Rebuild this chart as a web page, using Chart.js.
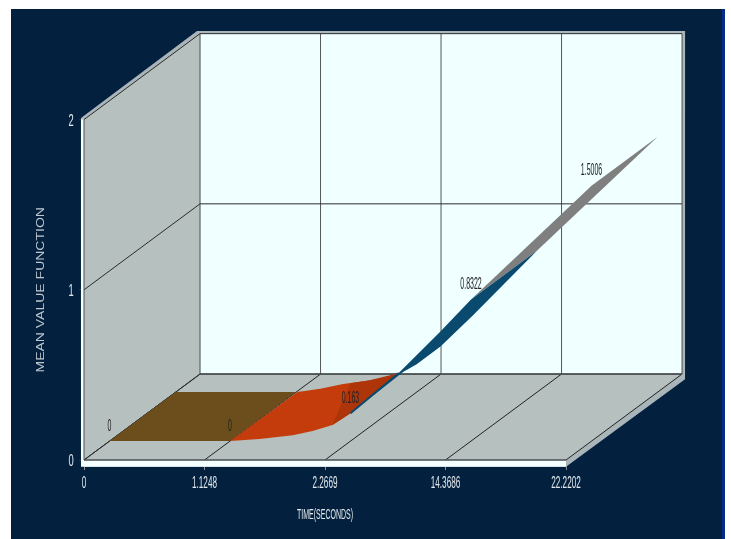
<!DOCTYPE html>
<html>
<head>
<meta charset="utf-8">
<style>
  html, body { margin: 0; padding: 0; background: #fff; overflow: hidden; }
  #frame { position: absolute; left: 11px; top: 9px; width: 711px; height: 530px; background: #03203f; }
  #strip { position: absolute; left: 722px; top: 9px; width: 3px; height: 530px; background: #062a8c; }
  canvas { position: absolute; left: 0; top: 0; }
</style>
<script src="https://cdn.jsdelivr.net/npm/chart.js@4"></script>
</head>
<body>
<div id="frame"></div>
<div id="strip"></div>
<canvas id="mycanvas" width="731" height="539"></canvas>
<script>
var xTickLabels = ['0', '1.1248', '2.2669', '14.3686', '22.2202'];
var yTickValues = [0, 1, 2];
var meanValues = [0, 0, 0.163, 0.8322, 1.5006];
var valueLabels = ['0', '0', '0.163', '0.8322', '1.5006'];

// ribbon edges, [tick position, value]
var frontEdgeRed = [[1, 0], [1.245, 0.012], [1.52, 0.035], [1.685, 0.059], [1.85, 0.094], [2, 0.163], [2.4, 0.4]];
var backEdgeRed = [[1.01, 0], [1.2, 0.02], [1.39, 0.047], [1.68, 0.076], [1.84, 0.11]];
var shadeEdgeRed = [[1.85, 0.094], [2, 0.163], [2.4, 0.4]];
var shadeBackRed = [[1.84, 0.11], [1.6, 0.068], [1.45, 0.052]];
var frontEdgeBlue = [[2, 0.163], [2.4, 0.4], [2.74, 0.64], [3, 0.8322]];
var backEdgeBlue = [[2.47, 0.453], [2.2, 0.27], [2, 0.163], [1.89, 0.12]];

var depthX = 0.963, depthY = 0.505;
var ribbonFront = 0.22, ribbonBack = 0.79;

function project(pos, val, depth) {
  return { x: pos + depth * depthX, y: val + depth * depthY };
}

var datasets = [];
function addShape(points, fillColor) {
  datasets.push({ data: points, polygonFill: fillColor, showLine: false, pointRadius: 0, clip: false });
}
function addLine(points, color, width) {
  datasets.push({ data: points, borderColor: color, borderWidth: width || 1, showLine: true, pointRadius: 0, fill: false, clip: false });
}

// outer edge and white rim of the box
addShape([project(-0.025, 0, 0), project(-0.025, 2.01, 0), project(-0.025, 2.015, 1), project(4.025, 2.015, 1), project(4.025, -0.03, 1), project(4, -0.04, 0), project(0, -0.04, 0)], '#aab5ba');
addShape([project(-0.025, 2, 0), project(0, 2, 0), project(0, 0, 0), project(4, 0, 0), project(4, -0.04, 0), project(-0.025, -0.04, 0)], '#f4ffff');

// walls and floor
addShape([project(0, 0, 0), project(0, 2, 0), project(0, 2, 1), project(0, 0, 1)], '#b6c0be');
addShape([project(0, 0, 1), project(0, 2, 1), project(4, 2, 1), project(4, 0, 1)], '#f0ffff');
addShape([project(0, 0, 0), project(4, 0, 0), project(4, 0, 1), project(0, 0, 1)], '#b6c0be');

// grid
for (var k = 0; k <= 4; k++) {
  addLine([project(k, 0, 1), project(k, 2, 1)], k == 0 || k == 4 ? '#4a4f50' : '#555', 1);
  addLine([project(k, 0, 0), project(k, 0, 1)], '#222', 1);
}
yTickValues.forEach(function (v) {
  addLine([project(0, v, 0), project(0, v, 1), project(4, v, 1)], '#2a2c2d', 1);
});
addLine([project(0, 0, 0), project(0, 2, 0)], '#4a4f50', 1);
addLine([project(0, 0, 0), project(4, 0, 0)], '#4a4f50', 1.5);
addLine([project(0, 0, 1), project(4, 0, 1)], '#4a4f50', 1.5);

// ribbon, back to front
addShape([project(3, meanValues[3], ribbonFront), project(4, meanValues[4], ribbonFront), project(4, meanValues[4], ribbonBack), project(3, meanValues[3], ribbonBack)], '#7f7f80');
addShape([project(0, meanValues[0], ribbonFront), project(1, meanValues[1], ribbonFront), project(1, meanValues[1], ribbonBack), project(0, meanValues[0], ribbonBack)], '#6b4e1c');

var redFront = frontEdgeRed.map(function (p) { return project(p[0], p[1], ribbonFront); });
var redBack = backEdgeRed.slice().reverse().map(function (p) { return project(p[0], p[1], ribbonBack); });
addShape(redFront.concat(redBack), '#c43c0c');

var shadeFront = shadeEdgeRed.map(function (p) { return project(p[0], p[1], ribbonFront); });
var shadeBack = shadeBackRed.map(function (p) { return project(p[0], p[1], ribbonBack); });
addShape(shadeFront.concat(shadeBack), '#ae3509');

var blueFront = frontEdgeBlue.map(function (p) { return project(p[0], p[1], ribbonFront); });
var blueBack = backEdgeBlue.map(function (p) { return project(p[0], p[1], ribbonBack); });
addShape(blueFront.concat([project(3, meanValues[3], ribbonBack)], blueBack), '#0a4a6e');
addLine(frontEdgeBlue.slice(0, 2).map(function (p) { return project(p[0], p[1], ribbonFront); }), '#0a4a6e', 2);

// first dataset is the one drawn first
datasets.forEach(function (d, i) { d.order = datasets.length - i; });

var polygonPlugin = {
  id: 'polygonFill',
  beforeDatasetDraw: function (chart, args) {
    var color = chart.data.datasets[args.index].polygonFill;
    if (!color) return;
    var ctx = chart.ctx;
    ctx.save();
    ctx.fillStyle = color;
    ctx.beginPath();
    args.meta.data.forEach(function (pt, i) {
      if (i == 0) ctx.moveTo(pt.x, pt.y);
      else ctx.lineTo(pt.x, pt.y);
    });
    ctx.closePath();
    ctx.fill();
    ctx.restore();
  }
};

// the labels in the picture are squeezed sideways
function squeezed(ctx, text, x, y, size, squeeze, color) {
  ctx.save();
  ctx.translate(x, y);
  ctx.scale(squeeze, 1);
  ctx.font = size + 'px "Liberation Sans"';
  ctx.fillStyle = color;
  ctx.textAlign = 'center';
  ctx.textBaseline = 'middle';
  ctx.fillText(text, 0, 0);
  ctx.restore();
}

var labelPlugin = {
  id: 'squeezedLabels',
  afterDatasetsDraw: function (chart) {
    var ctx = chart.ctx, sx = chart.scales.x, sy = chart.scales.y;
    sx.ticks.forEach(function (t, i) {
      squeezed(ctx, xTickLabels[t.value], sx.getPixelForTick(i), 483, 17, 0.48, '#e2e9ec');
    });
    sy.ticks.forEach(function (t, i) {
      squeezed(ctx, String(t.value), 71, sy.getPixelForTick(i) + 1.5, 17, 0.55, '#e2e9ec');
    });
    meanValues.forEach(function (v, i) {
      var p = project(i, v, ribbonFront);
      squeezed(ctx, valueLabels[i], sx.getPixelForValue(p.x), sy.getPixelForValue(p.y) - 15, 17, 0.41, '#222');
    });
    squeezed(ctx, 'TIME(SECONDS)', sx.getPixelForValue(2), 515, 14, 0.5, '#e2e9ec');
    ctx.save();
    ctx.translate(41, sy.getPixelForValue(1));
    ctx.rotate(-Math.PI / 2);
    ctx.scale(1.4, 1);
    ctx.font = '10px "Liberation Sans"';
    ctx.fillStyle = '#bcc7ce';
    ctx.textAlign = 'center';
    ctx.textBaseline = 'middle';
    ctx.fillText('MEAN VALUE FUNCTION', 0, 0);
    ctx.restore();
  }
};

var ctx = document.getElementById('mycanvas');
var chart = new Chart(ctx, {
  type: 'scatter',
  data: { datasets: datasets },
  plugins: [polygonPlugin, labelPlugin],
  options: {
    responsive: false,
    animation: false,
    layout: { padding: { top: 26, right: 44.5 } },
    plugins: { legend: { display: false }, tooltip: { enabled: false } },
    scales: {
      x: {
        type: 'linear', min: 0, max: 5,
        afterFit: function (s) { s.height = 79; },
        afterBuildTicks: function (s) { s.ticks = s.ticks.filter(function (t) { return t.value <= 4; }); },
        border: { display: false },
        grid: { drawOnChartArea: false, tickLength: 10, color: '#8a9296' },
        ticks: { stepSize: 1, display: false, includeBounds: false }
      },
      y: {
        type: 'linear', min: 0, max: 2.55,
        afterFit: function (s) { s.width = 84; },
        afterBuildTicks: function (s) { s.ticks = s.ticks.filter(function (t) { return yTickValues.indexOf(t.value) >= 0; }); },
        border: { display: false },
        grid: { drawOnChartArea: false, tickLength: 5, color: '#333' },
        ticks: { stepSize: 1, display: false, includeBounds: false }
      }
    }
  }
});
</script>
</body>
</html>
